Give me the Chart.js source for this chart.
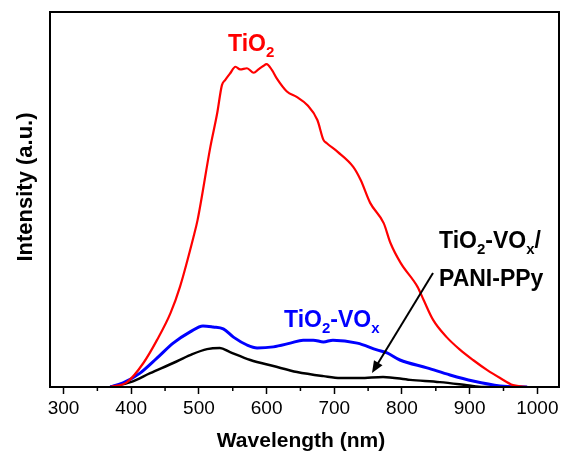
<!DOCTYPE html>
<html>
<head>
<script src="https://cdn.jsdelivr.net/npm/chart.js@4/dist/chart.umd.min.js"></script>
<style>
  body { margin: 0; background: #fff; }
</style>
</head>
<body>
<canvas id="pl" width="571" height="453"></canvas>
<script>
  // PL spectra (intensity in arbitrary units, 0-100 = axis height)
  const tio2Nm  = [369, 394, 418, 438, 458, 472, 492, 498, 517, 527, 534, 539, 546, 554, 561, 571, 581, 588, 595, 600, 608, 615, 630, 645, 660, 675, 684, 689, 705, 728, 739, 753, 773, 783, 798, 823, 832, 846, 866, 886, 905, 926, 945, 964, 985];
  const tio2Int = [0, 1.3, 6.4, 12.5, 19.7, 26.7, 40, 44.5, 64.1, 73, 80.5, 81.9, 83.6, 85.4, 84.7, 85, 83.8, 84.7, 85.6, 86.1, 84.5, 82.3, 78.8, 77.3, 75.2, 71.2, 65.9, 65, 62.7, 58.7, 55.2, 49.1, 43.7, 38.4, 33.1, 26.7, 23.2, 17.9, 13.3, 9.9, 7.2, 4.5, 2.4, 0.5, 0];

  const voxNm  = [369, 388, 413, 438, 462, 487, 506, 521, 536, 551, 571, 586, 610, 635, 654, 669, 684, 698, 734, 763, 778, 797, 837, 871, 905, 945, 985];
  const voxInt = [0, 1.1, 3.7, 7.7, 11.7, 14.7, 16.3, 16, 15.5, 13.3, 11.2, 10.4, 10.7, 11.7, 12.5, 12.5, 12, 12.5, 11.7, 9.9, 9.1, 7.2, 5.1, 3.2, 1.6, 0.3, 0];

  const pppNm  = [369, 399, 428, 462, 487, 512, 531, 546, 576, 610, 645, 684, 709, 738, 772, 812, 856, 896, 920, 945];
  const pppInt = [0, 1.3, 3.7, 6.4, 8.5, 10.1, 10.4, 9.3, 7.2, 5.6, 4.0, 2.9, 2.4, 2.4, 2.7, 1.9, 1.3, 0.5, 0, 0];

  const xTicks = [300, 350, 400, 450, 500, 550, 600, 650, 700, 750, 800, 850, 900, 950, 1000];

  const FONT = '"Liberation Sans", Arial, sans-serif';
  Chart.defaults.font.family = FONT;

  function pts(xs, ys) {
    return xs.map((x, i) => ({ x: x, y: ys[i] }));
  }

  // text with subscripts: parts = [[text, isSub], ...]
  function rich(ctx, x, y, parts, size, color) {
    ctx.fillStyle = color;
    ctx.textAlign = 'left';
    ctx.textBaseline = 'alphabetic';
    for (const [t, sub] of parts) {
      ctx.font = 'bold ' + (sub ? Math.round(size * 0.65) : size) + 'px ' + FONT;
      ctx.fillText(t, x, sub ? y + size * 0.25 : y);
      x += ctx.measureText(t).width;
    }
  }

  const decor = {
    id: 'decor',
    afterDraw(chart) {
      const ctx = chart.ctx;
      const a = chart.chartArea;
      const xs = chart.scales.x;
      ctx.save();
      // frame
      ctx.strokeStyle = '#000';
      ctx.lineWidth = 2;
      ctx.strokeRect(a.left, a.top, a.right - a.left, a.bottom - a.top);

      // short minor ticks
      ctx.lineWidth = 1.5;
      ctx.beginPath();
      xTicks.filter(v => v % 100 !== 0).forEach(v => {
        const px = xs.getPixelForValue(v);
        ctx.moveTo(px, a.bottom);
        ctx.lineTo(px, a.bottom + 4);
      });
      ctx.stroke();

      // axis titles
      ctx.fillStyle = '#000';
      ctx.font = 'bold 21px ' + FONT;
      ctx.textAlign = 'center';
      ctx.textBaseline = 'alphabetic';
      ctx.fillText('Wavelength (nm)', 301, 447);
      ctx.save();
      ctx.translate(32, 187);
      ctx.rotate(-Math.PI / 2);
      ctx.font = 'bold 22px ' + FONT;
      ctx.fillText('Intensity (a.u.)', 0, 0);
      ctx.restore();

      // curve labels
      rich(ctx, 228, 51, [['TiO', false], ['2', true]], 23, '#ff0000');
      rich(ctx, 284, 327, [['TiO', false], ['2', true], ['-VO', false], ['x', true]], 23, '#0000ff');
      rich(ctx, 439, 248, [['TiO', false], ['2', true], ['-VO', false], ['x', true], ['/', false]], 23, '#000');
      rich(ctx, 439, 286, [['PANI-PPy', false]], 23, '#000');

      // arrow
      const x0 = 433, y0 = 273, x1 = 372, y1 = 373;
      const ang = Math.atan2(y1 - y0, x1 - x0);
      ctx.strokeStyle = '#000';
      ctx.lineWidth = 2;
      ctx.beginPath();
      ctx.moveTo(x0, y0);
      ctx.lineTo(x1 - 8 * Math.cos(ang), y1 - 8 * Math.sin(ang));
      ctx.stroke();
      ctx.beginPath();
      ctx.moveTo(x1, y1);
      ctx.lineTo(x1 - 12 * Math.cos(ang) + 5 * Math.sin(ang), y1 - 12 * Math.sin(ang) - 5 * Math.cos(ang));
      ctx.lineTo(x1 - 12 * Math.cos(ang) - 5 * Math.sin(ang), y1 - 12 * Math.sin(ang) + 5 * Math.cos(ang));
      ctx.closePath();
      ctx.fillStyle = '#000';
      ctx.fill();
      ctx.restore();
    }
  };

  new Chart('pl', {
    type: 'line',
    data: {
      datasets: [
        { label: 'TiO2', data: pts(tio2Nm, tio2Int), borderColor: '#ff0000', borderWidth: 2.2 },
        { label: 'TiO2-VOx', data: pts(voxNm, voxInt), borderColor: '#0000ff', borderWidth: 3 },
        { label: 'TiO2-VOx/PANI-PPy', data: pts(pppNm, pppInt), borderColor: '#000', borderWidth: 2.5 }
      ]
    },
    options: {
      responsive: false,
      animation: false,
      layout: { padding: { top: 12, right: 12 } },
      elements: {
        point: { radius: 0 },
        line: { tension: 0.3, cubicInterpolationMode: 'monotone', fill: false }
      },
      plugins: { legend: { display: false }, tooltip: { enabled: false } },
      scales: {
        x: {
          type: 'linear',
          min: 280,
          max: 1032,
          afterBuildTicks: s => { s.ticks = xTicks.map(v => ({ value: v })); },
          afterFit: s => { s.height = 66; },
          border: { display: false },
          grid: {
            drawOnChartArea: false,
            tickLength: 7,
            tickWidth: 1.5,
            tickColor: c => (c.tick && c.tick.value % 100 === 0 ? '#000' : 'rgba(0,0,0,0)')
          },
          ticks: {
            padding: 3,
            color: '#000',
            font: { size: 19 },
            maxRotation: 0,
            autoSkip: false,
            callback: v => (v % 100 === 0 ? String(v) : '')
          }
        },
        y: {
          min: 0,
          max: 100,
          afterFit: s => { s.width = 50; },
          border: { display: false },
          grid: { display: false },
          ticks: { display: false }
        }
      }
    },
    plugins: [decor]
  });
</script>
</body>
</html>
